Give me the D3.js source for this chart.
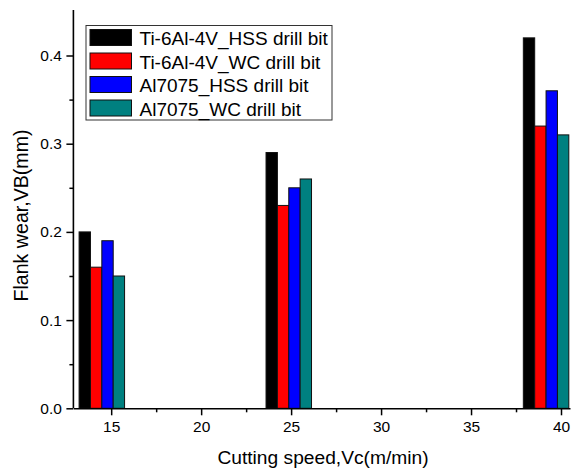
<!DOCTYPE html>
<html><head><meta charset="utf-8">
<script src="https://cdn.jsdelivr.net/npm/d3@7"></script>
<style>body{margin:0;background:#fff}svg{display:block}text{font-family:Arial,"Liberation Sans",sans-serif}</style>
</head><body>
<svg id="c" width="571" height="468"></svg>
<script>
// data
const speeds = [15, 25, 40];                  // cutting speed categories (m/min)
const groupX = [14.48, 24.87, 39.17];         // where each bar group is centred on the x axis
const seriesNames = ["Ti-6Al-4V_HSS drill bit", "Ti-6Al-4V_WC drill bit", "Al7075_HSS drill bit", "Al7075_WC drill bit"];
const tiHSS = [0.20, 0.29, 0.42];
const tiWC  = [0.16, 0.23, 0.32];
const alHSS = [0.19, 0.25, 0.36];
const alWC  = [0.15, 0.26, 0.31];
const seriesColors = ["#000000", "#ff0000", "#0000ff", "#008080"];
const xTicks = [15, 20, 25, 30, 35, 40];
const yTicks = [0.0, 0.1, 0.2, 0.3, 0.4];

const series = [tiHSS, tiWC, alHSS, alWC];
const svg = d3.select("#c");
const x = d3.scaleLinear().domain([12.9, 40.5]).range([73.4, 570]);
const y = d3.scaleLinear().domain([0, 0.45]).range([408.3, 11.4]);
const barW = 0.632; // in x units

// bars
series.forEach((vals, si) => {
  svg.append("g").selectAll("rect").data(vals).join("rect")
    .attr("x", (d, i) => x(groupX[i] - 2 * barW + si * barW))
    .attr("width", (d, i) => x(groupX[i] - 2 * barW + (si + 1) * barW) - x(groupX[i] - 2 * barW + si * barW))
    .attr("y", d => y(d))
    .attr("height", d => y(0) - y(d))
    .attr("fill", seriesColors[si])
    .attr("stroke", "#111")
    .attr("stroke-width", 1);
});

// y axis
const yAxis = d3.axisLeft(y).tickValues(yTicks).tickFormat(d3.format(".1f")).tickSize(7).tickSizeOuter(0).tickPadding(4.5);
const gy = svg.append("g").attr("transform", `translate(${x(12.9)},0)`).call(yAxis);
gy.selectAll(".tick line").attr("stroke-width", 1.5);
gy.select(".domain").attr("stroke-width", 1.6).attr("d", `M0,${y(0)}V10`);
gy.selectAll("text").attr("font-size", 15.5).attr("fill", "#000");
const yMinor = d3.axisLeft(y).tickValues([0.05, 0.15, 0.25, 0.35]).tickSize(4).tickFormat("");
const gym = svg.append("g").attr("transform", `translate(${x(12.9)},0)`).call(yMinor);
gym.select(".domain").remove();
gym.selectAll("line").attr("stroke-width", 1.5);

// x axis
const xAxis = d3.axisBottom(x).tickValues(xTicks).tickSize(7).tickSizeOuter(0).tickPadding(6);
const gx = svg.append("g").attr("transform", `translate(0,${y(0)})`).call(xAxis);
gx.select(".domain").attr("stroke-width", 1.6);
gx.selectAll(".tick line").attr("stroke-width", 1.5);
gx.selectAll("text").attr("font-size", 15.5).attr("fill", "#000");
const xMinor = d3.axisBottom(x).tickValues([17.5, 22.5, 27.5, 32.5, 37.5]).tickSize(4).tickFormat("");
const gxm = svg.append("g").attr("transform", `translate(0,${y(0)})`).call(xMinor);
gxm.select(".domain").remove();
gxm.selectAll("line").attr("stroke-width", 1.5);

// axis titles
svg.append("text").attr("x", 323).attr("y", 464).attr("text-anchor", "middle")
  .attr("font-size", 19.2).text("Cutting speed,Vc(m/min)");
svg.append("text").attr("transform", "translate(28,215.5) rotate(-90)").attr("text-anchor", "middle")
  .attr("font-size", 19.6).text("Flank wear,VB(mm)");

// legend
const lg = svg.append("g");
lg.append("rect").attr("x", 86).attr("y", 25.5).attr("width", 246).attr("height", 94.5)
  .attr("fill", "#fff").attr("stroke", "#333").attr("stroke-width", 1);
seriesNames.forEach((n, i) => {
  const yy = 29.5 + i * 23.5;
  lg.append("rect").attr("x", 90).attr("y", yy).attr("width", 41.5).attr("height", 16)
    .attr("fill", seriesColors[i]).attr("stroke", "#111").attr("stroke-width", 1);
  lg.append("text").attr("x", 139.5).attr("y", yy + 15.5).attr("font-size", 19).text(n);
});
</script>
</body></html>
